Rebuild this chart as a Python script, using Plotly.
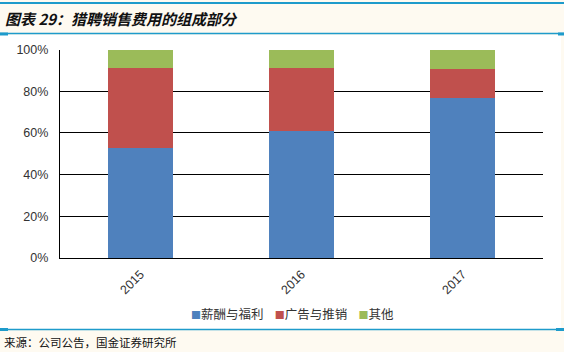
import plotly.graph_objects as go

years = ["2015", "2016", "2017"]
salary = [0.526, 0.609, 0.766]
ads = [0.385, 0.302, 0.140]
other = [0.089, 0.089, 0.094]
series_names = ["薪酬与福利", "广告与推销", "其他"]
colors = ["#4F81BD", "#C0504D", "#9BBB59"]
y_ticks = [0, 0.2, 0.4, 0.6, 0.8, 1.0]
y_labels = ["0%", "20%", "40%", "60%", "80%", "100%"]

W, H = 564, 352
fig = go.Figure()
for name, vals, c in zip(series_names, [salary, ads, other], colors):
    fig.add_trace(go.Bar(x=years, y=vals, name=name, marker=dict(color=c, line=dict(width=0))))

def py(px):
    return 1 - px / H

fig.update_layout(
    template="none",
    width=W, height=H,
    margin=dict(l=0, r=0, t=0, b=0, autoexpand=False),
    paper_bgcolor="#FEFAF1",
    plot_bgcolor="rgba(0,0,0,0)",
    barmode="stack",
    bargap=0.6,
    showlegend=False,
    font=dict(family="Liberation Sans, Arial, Noto Sans CJK SC", size=12, color="#333333"),
    xaxis=dict(domain=[60 / W, 543 / W], showline=True, linecolor="black", linewidth=1.2,
               tickangle=-45, ticks="", showgrid=False, automargin=False, zeroline=False,
               ticklabelstandoff=3, tickfont=dict(size=12.5, color="#333333")),
    yaxis=dict(domain=[py(258), py(49.5)], range=[0, 1], tickvals=y_ticks, ticktext=y_labels,
               showline=True, linecolor="black", linewidth=1.2, showgrid=True,
               gridcolor="black", gridwidth=1.2, zeroline=False, ticks="", automargin=False,
               ticklabelstandoff=8, tickfont=dict(size=12.5, color="#333333")),
)

shapes = [
    dict(type="rect", xref="paper", yref="paper", x0=0, x1=561 / W, y0=py(329), y1=py(35),
         fillcolor="white", line=dict(width=0), layer="below"),
    dict(type="line", xref="paper", yref="paper", x0=0, x1=1, y0=py(3), y1=py(3),
         line=dict(color="#1E9BCB", width=2)),
    dict(type="line", xref="paper", yref="paper", x0=0, x1=1, y0=py(33.5), y1=py(33.5),
         line=dict(color="#1E9BCB", width=1.5)),
    dict(type="line", xref="paper", yref="paper", x0=0, x1=8 / W, y0=py(34), y1=py(34),
         line=dict(color="#1E9BCB", width=3)),
    dict(type="line", xref="paper", yref="paper", x0=558 / W, x1=1, y0=py(34), y1=py(34),
         line=dict(color="#1E9BCB", width=3)),
    dict(type="line", xref="paper", yref="paper", x0=0, x1=1, y0=py(329.5), y1=py(329.5),
         line=dict(color="#1E9BCB", width=1.5)),
    dict(type="line", xref="paper", yref="paper", x0=0, x1=8 / W, y0=py(329.5), y1=py(329.5),
         line=dict(color="#1E9BCB", width=3)),
    dict(type="line", xref="paper", yref="paper", x0=556 / W, x1=1, y0=py(329.5), y1=py(329.5),
         line=dict(color="#1E9BCB", width=3)),
]
fig.update_layout(shapes=shapes)

legend_text = "&nbsp;&nbsp;&nbsp;&nbsp;".join(
    f'<span style="color:{c};font-size:10px">■</span>{n}' for n, c in zip(series_names, colors)
)
fig.add_annotation(text=legend_text, xref="paper", yref="paper",
                   x=292 / W, y=py(313), xanchor="center", yanchor="middle", showarrow=False,
                   font=dict(size=12.5, color="#333333", family="Noto Sans CJK SC"))

fig.add_annotation(text="<b><i>图表 29：猎聘销售费用的组成部分</i></b>", xref="paper", yref="paper",
                   x=3 / W, y=py(18), xanchor="left", yanchor="middle", showarrow=False,
                   font=dict(size=15, color="#111111", family="Noto Sans CJK SC"))
fig.add_annotation(text="来源：公司公告，国金证券研究所", xref="paper", yref="paper",
                   x=2 / W, y=py(342), xanchor="left", yanchor="middle", showarrow=False,
                   font=dict(size=11.5, color="#111111", family="Noto Sans CJK SC"))

fig.write_html("out.html")
